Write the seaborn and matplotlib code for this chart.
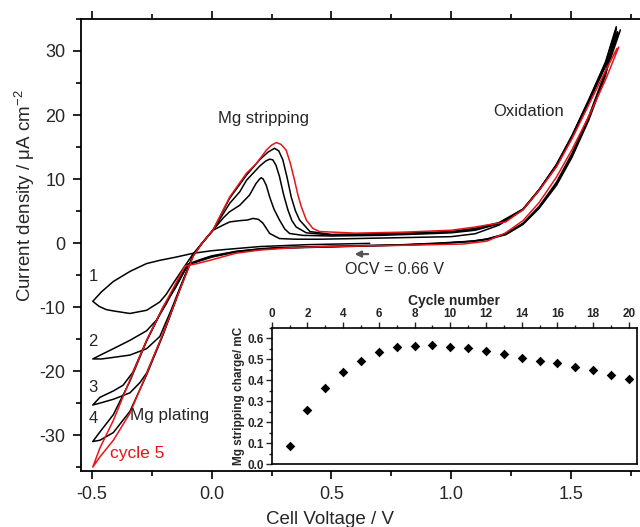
import numpy as np
import pandas as pd
import seaborn as sns
import matplotlib
matplotlib.use("Agg")
import matplotlib.pyplot as plt
from matplotlib.ticker import MultipleLocator

sns.set_style("white")
plt.rcParams['font.family'] = ['Liberation Sans', 'DejaVu Sans']
plt.rcParams['mathtext.fontset'] = 'custom'
plt.rcParams['mathtext.rm'] = 'Liberation Sans'
plt.rcParams['mathtext.it'] = 'Liberation Sans:italic'
plt.rcParams['axes.unicode_minus'] = False

# ---- CV data (cell voltage / V, current density / uA cm-2)
# cycle 1 starts at OCV and sweeps negative first
v_cycle1 = [0.66, 0.53, 0.40, 0.20, 0.058, 0.0, -0.078, -0.15, -0.217, -0.272, -0.34, -0.411, -0.46, -0.497,
            -0.47, -0.44, -0.411, -0.342, -0.272, -0.217, -0.19, -0.161, -0.12, -0.078, -0.04, 0.005, 0.047,
            0.075, 0.117, 0.15, 0.172, 0.195, 0.214, 0.242, 0.283, 0.35, 0.45, 0.6, 0.8, 1.0, 1.1, 1.2, 1.3,
            1.367, 1.44, 1.505, 1.575, 1.645, 1.69]
j_cycle1 = [-0.05, -0.15, -0.25, -0.55, -1.0, -1.2, -1.6, -2.2, -2.7, -3.2, -4.4, -6.0, -7.6, -9.1,
            -9.9, -10.4, -10.6, -11.0, -10.5, -9.2, -8.0, -6.3, -4.0, -1.7, 0.0, 2.0, 2.8,
            3.3, 3.5, 3.6, 3.85, 3.7, 3.1, 1.5, 0.7, 0.6, 0.6, 0.7, 0.85, 1.0, 1.45, 2.8, 5.2,
            8.3, 12.3, 16.8, 22.4, 28.3, 33.8]

v_cycle2 = [1.707, 1.645, 1.575, 1.505, 1.44, 1.367, 1.3, 1.228, 1.15, 1.089, 0.95, 0.8, 0.5, 0.283, 0.2,
            0.1, 0.0, -0.05, -0.1, -0.15, -0.19, -0.23, -0.272, -0.342, -0.411, -0.46, -0.497,
            -0.46, -0.439, -0.342, -0.272, -0.217, -0.17, -0.133, -0.078, -0.04, 0.005, 0.05, 0.075, 0.117,
            0.158, 0.185, 0.2, 0.207, 0.215, 0.228, 0.242, 0.26, 0.283, 0.305, 0.325, 0.38, 0.5, 0.7, 0.9,
            1.0, 1.1, 1.2, 1.3, 1.367, 1.44, 1.505, 1.575, 1.645, 1.69]
j_cycle2 = [33.3, 26.5, 19.5, 13.6, 9.2, 5.5, 3.0, 1.4, 0.6, 0.3, 0.0, -0.25, -0.5, -0.7, -0.9,
            -1.3, -2.0, -2.6, -3.3, -6.5, -9.5, -12.0, -13.7, -15.2, -16.5, -17.4, -18.1,
            -18.1, -18.0, -17.5, -16.5, -14.6, -10.5, -7.0, -1.9, 0.0, 2.0, 4.0, 4.9, 5.9,
            7.5, 9.3, 10.0, 10.2, 10.0, 9.0, 7.2, 5.3, 3.6, 2.2, 1.5, 1.2, 1.1, 1.2, 1.45,
            1.6, 2.0, 3.0, 5.3, 8.3, 12.1, 16.7, 22.3, 28.1, 33.5]

v_cycle3 = [1.69, 1.645, 1.575, 1.505, 1.44, 1.367, 1.3, 1.228, 1.15, 1.089, 0.95, 0.8, 0.5, 0.283, 0.2,
            0.1, 0.0, -0.05, -0.1, -0.15, -0.203, -0.272, -0.33, -0.37, -0.411, -0.467, -0.497,
            -0.467, -0.411, -0.342, -0.3, -0.272, -0.203, -0.133, -0.078, -0.04, 0.005, 0.075, 0.117, 0.145,
            0.2, 0.225, 0.242, 0.255, 0.268, 0.283, 0.3, 0.318, 0.335, 0.353, 0.395, 0.5, 0.7, 0.9, 1.0, 1.1,
            1.2, 1.3, 1.367, 1.44, 1.505, 1.575, 1.645, 1.695]
j_cycle3 = [33.5, 26.2, 19.2, 13.4, 9.0, 5.4, 2.9, 1.3, 0.55, 0.25, -0.05, -0.3, -0.55, -0.75, -0.95,
            -1.35, -2.1, -2.7, -3.4, -6.8, -10.0, -15.2, -20.2, -22.2, -23.1, -24.1, -25.3,
            -25.0, -24.4, -23.4, -21.8, -20.3, -14.2, -7.2, -2.0, 0.0, 2.0, 6.2, 8.0, 9.8,
            12.0, 12.8, 13.1, 13.0, 12.2, 10.4, 7.6, 5.2, 3.5, 2.5, 1.6, 1.25, 1.35, 1.55, 1.7, 2.1,
            3.1, 5.2, 8.2, 12.0, 16.5, 22.0, 27.6, 33.0]

v_cycle4 = [1.695, 1.645, 1.575, 1.505, 1.44, 1.367, 1.3, 1.228, 1.15, 1.089, 0.95, 0.8, 0.5, 0.283, 0.2,
            0.1, 0.0, -0.05, -0.1, -0.15, -0.203, -0.272, -0.342, -0.411, -0.467, -0.497,
            -0.467, -0.411, -0.342, -0.272, -0.203, -0.133, -0.078, -0.04, 0.005, 0.075, 0.145, 0.2, 0.235,
            0.2625, 0.28, 0.297, 0.315, 0.332, 0.35, 0.367, 0.41, 0.5, 0.7, 0.9, 1.0, 1.1, 1.2, 1.3, 1.367,
            1.44, 1.505, 1.575, 1.645, 1.70]
j_cycle4 = [33.0, 26.8, 19.8, 14.0, 9.5, 5.7, 3.1, 1.45, 0.65, 0.3, -0.1, -0.32, -0.6, -0.8, -1.0,
            -1.4, -2.2, -2.8, -3.4, -6.9, -10.1, -15.3, -21.6, -26.8, -29.5, -31.0,
            -30.8, -29.6, -26.3, -20.6, -14.3, -7.2, -2.0, 0.0, 2.0, 7.0, 10.6, 13.0, 14.2,
            14.8, 14.4, 13.0, 10.2, 7.2, 5.0, 3.6, 1.8, 1.35, 1.45, 1.65, 1.8, 2.3, 3.2, 5.3, 8.3,
            12.2, 16.7, 22.2, 27.8, 32.8]

v_cycle5 = [1.70, 1.645, 1.575, 1.505, 1.44, 1.367, 1.3, 1.228, 1.15, 1.05, 0.8, 0.533, 0.35, 0.2, 0.1,
            -0.008, -0.06, -0.1125, -0.16, -0.203, -0.272, -0.342, -0.411, -0.467, -0.497,
            -0.467, -0.411, -0.342, -0.272, -0.203, -0.133, -0.078, -0.04, 0.005, 0.075, 0.145, 0.186, 0.228,
            0.25, 0.27, 0.29, 0.311, 0.328, 0.346, 0.36, 0.374, 0.395, 0.422, 0.45, 0.6, 0.8, 1.0, 1.1, 1.228,
            1.3, 1.367, 1.44, 1.505, 1.575, 1.645, 1.693]
j_cycle5 = [30.6, 25.5, 19.8, 14.6, 10.3, 6.3, 3.5, 1.6, 0.3, -0.15, -0.35, -0.5, -0.7, -1.1, -1.6,
            -2.7, -3.2, -3.6, -7.0, -10.0, -15.2, -21.4, -27.7, -32.0, -35.0,
            -33.4, -30.8, -26.6, -20.4, -14.1, -7.3, -2.1, 0.0, 2.0, 7.2, 10.9, 12.4, 14.5,
            15.3, 15.7, 15.4, 14.5, 12.5, 9.8, 7.5, 5.7, 3.6, 2.3, 1.8, 1.55, 1.7, 2.0, 2.5, 3.3,
            5.2, 8.2, 11.9, 16.3, 21.6, 26.9, 30.4]

cycles_v = [v_cycle1, v_cycle2, v_cycle3, v_cycle4, v_cycle5]
cycles_j = [j_cycle1, j_cycle2, j_cycle3, j_cycle4, j_cycle5]
cycle_colors = ["black", "black", "black", "black", "#e8141b"]

# ---- inset: Mg stripping charge vs cycle number
cycle_number = list(range(1, 21))
strip_charge = [0.087, 0.259, 0.365, 0.44, 0.493, 0.533, 0.56, 0.563, 0.567, 0.557,
                0.552, 0.541, 0.525, 0.508, 0.492, 0.481, 0.462, 0.448, 0.427, 0.406]

fig = plt.figure(figsize=(6.4, 5.27), dpi=100)
ax = fig.add_axes([0.1266, 0.1063, 0.8734, 0.8577])

for v, j, c in zip(cycles_v, cycles_j, cycle_colors):
    df = pd.DataFrame({"V": v, "j": j})
    sns.lineplot(data=df, x="V", y="j", sort=False, estimator=None, color=c, lw=1.1, ax=ax)

ax.set_xlim(-0.546, 1.789)
ax.set_ylim(-35.6, 35.0)
ax.xaxis.set_major_locator(MultipleLocator(0.5))
ax.xaxis.set_minor_locator(MultipleLocator(0.25))
ax.yaxis.set_major_locator(MultipleLocator(10))
ax.yaxis.set_minor_locator(MultipleLocator(5))
ax.tick_params(which="both", direction="out", top=True, bottom=True, left=True, right=False,
               labeltop=False, width=1.2, color="black", labelsize=13)
ax.tick_params(which="major", length=6, pad=5)
ax.tick_params(which="minor", length=3.5)
for s in ["left", "bottom", "top"]:
    ax.spines[s].set_color("black")
    ax.spines[s].set_linewidth(1.3)
ax.spines["right"].set_visible(False)
ax.set_xlabel("Cell Voltage / V", fontsize=13.5)
ax.set_ylabel("Current density / \u03bcA cm$^{-2}$", fontsize=13.5)
# labels sit off-centre in the original
ax.xaxis.set_label_coords(0.445, -0.088)
ax.yaxis.set_label_coords(-0.079, 0.61)

# annotations
ax.text(0.217, 19.5, "Mg stripping", fontsize=12, ha="center", va="center")
ax.text(1.325, 20.5, "Oxidation", fontsize=12, ha="center", va="center")
ax.text(0.7625, -4.2, "OCV = 0.66 V", fontsize=11.5, ha="center", va="center")
ax.annotate("", xy=(0.585, -1.72), xytext=(0.665, -1.72),
            arrowprops=dict(arrowstyle="-|>", color="#555555", lw=1.6, mutation_scale=9))
for lab, y in zip(["1", "2", "3", "4"], [-5.3, -15.4, -22.5, -27.4]):
    ax.text(-0.495, y, lab, fontsize=12, ha="center", va="center")
ax.text(-0.175, -26.9, "Mg plating", fontsize=12.3, ha="center", va="center")
ax.text(-0.311, -32.9, "cycle 5", fontsize=12.5, ha="center", va="center", color="#e8141b")

# inset
axin = fig.add_axes([0.4245, 0.119, 0.5708, 0.2592])
sns.scatterplot(x=cycle_number, y=strip_charge, marker="D", color="black", s=24,
                linewidth=0, ax=axin)
axin.set_xlim(0, 20.46)
axin.set_ylim(0, 0.65)
axin.xaxis.tick_top()
axin.xaxis.set_label_position("top")
axin.xaxis.set_major_locator(MultipleLocator(2))
axin.xaxis.set_minor_locator(MultipleLocator(1))
axin.yaxis.set_major_locator(MultipleLocator(0.1))
axin.yaxis.set_minor_locator(MultipleLocator(0.05))
axin.tick_params(which="both", direction="out", top=True, bottom=False, left=True, right=False,
                 width=1.0, pad=1.5, labelsize=8.5)
axin.tick_params(which="major", length=4)
axin.tick_params(which="minor", length=2.5)
for t in axin.get_xticklabels() + axin.get_yticklabels():
    t.set_fontweight("bold")
axin.set_xlabel("Cycle number", fontsize=10, fontweight="bold", labelpad=2)
axin.set_ylabel("Mg stripping charge/ mC", fontsize=8.5, fontweight="bold", labelpad=2)
for s in axin.spines.values():
    s.set_color("black")
    s.set_linewidth(1.2)

fig.savefig("out.png", dpi=100)
